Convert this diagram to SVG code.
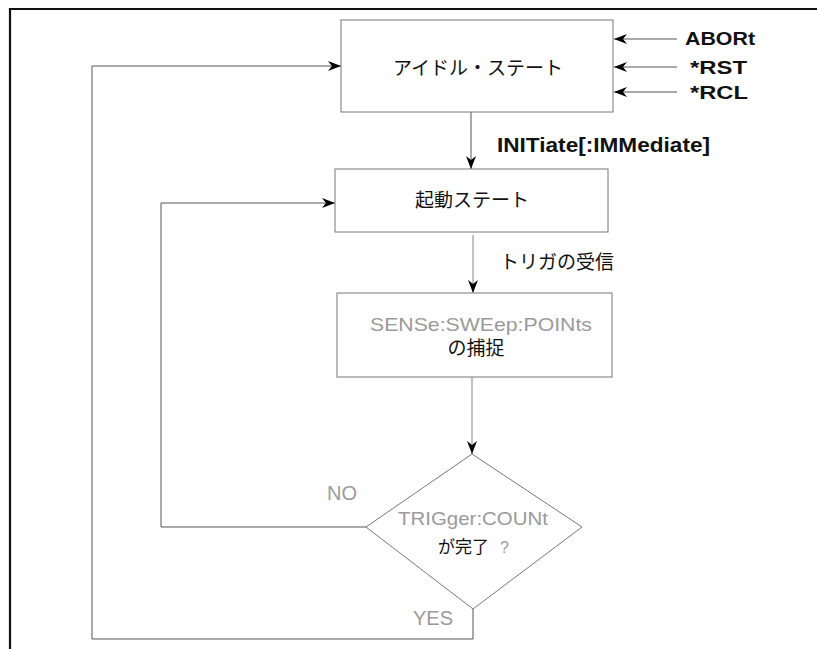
<svg xmlns="http://www.w3.org/2000/svg" width="817" height="649" viewBox="0 0 817 649">
<style>
.box{fill:#fff;stroke:#777;stroke-width:1}
.ln{fill:none;stroke:#555;stroke-width:1}
.lg{fill:none;stroke:#999;stroke-width:1.2}
.jp{font-family:"Noto Sans CJK JP","Noto Sans CJK SC",sans-serif;font-size:19px;fill:#111}
.bd{font-family:"Liberation Sans","DejaVu Sans",sans-serif;font-size:18px;font-weight:bold;fill:#111}
.gr{font-family:"Liberation Sans","DejaVu Sans",sans-serif;font-size:19px;fill:#9a9a9a}
</style>
<defs>
<marker id="ah" markerWidth="14" markerHeight="10" refX="13" refY="5" orient="auto" markerUnits="userSpaceOnUse">
<path d="M0,0 L13,5 L0,10 L4,5 Z" fill="#000"/>
</marker>
</defs>
<rect width="817" height="649" fill="#fff"/>
<g id="frame">
<path d="M10,649 V9 H817" fill="none" stroke="#111" stroke-width="2.2"/>
</g>
<g id="connectors">
<line class="ln" x1="677" y1="39" x2="614" y2="39" marker-end="url(#ah)"/>
<line class="ln" x1="677" y1="67" x2="614" y2="67" marker-end="url(#ah)"/>
<line class="ln" x1="677" y1="92" x2="614" y2="92" marker-end="url(#ah)"/>
<line class="ln" x1="471" y1="112" x2="471" y2="169" marker-end="url(#ah)"/>
<line class="lg" x1="473" y1="235" x2="473" y2="293" marker-end="url(#ah)"/>
<line class="lg" x1="472" y1="377" x2="472" y2="454" marker-end="url(#ah)"/>
<polyline class="ln" points="366,527 161,527 161,203 335,203" marker-end="url(#ah)"/>
<polyline class="ln" points="473,609 473,639 92,639 92,66 341,66" marker-end="url(#ah)"/>
</g>
<g id="idle">
<rect class="box" x="341" y="20" width="272" height="92"/>
<text class="jp" x="478" y="75" text-anchor="middle">アイドル・ステート</text>
</g>
<g id="labels-right">
<text class="bd" x="685" y="45" textLength="70" lengthAdjust="spacingAndGlyphs">ABORt</text>
<text class="bd" x="690" y="74" textLength="57" lengthAdjust="spacingAndGlyphs">*RST</text>
<text class="bd" x="690" y="99" textLength="58" lengthAdjust="spacingAndGlyphs">*RCL</text>
<text class="bd" x="497" y="152" style="font-size:21px" textLength="213" lengthAdjust="spacingAndGlyphs">INITiate[:IMMediate]</text>
</g>
<g id="start">
<rect class="box" x="335" y="169" width="273" height="63"/>
<text class="jp" x="472" y="207" text-anchor="middle">起動ステート</text>
</g>
<g id="trigger-label">
<text class="jp" x="500" y="269">トリガの受信</text>
</g>
<g id="sense">
<rect class="box" x="337" y="293" width="275" height="84"/>
<text class="gr" x="370" y="331" textLength="222" lengthAdjust="spacingAndGlyphs">SENSe:SWEep:POINts</text>
<text class="jp" x="476" y="355" text-anchor="middle">の捕捉</text>
</g>
<g id="decision">
<polygon class="box" points="472,454 582,527 473,609 366,527"/>
<text class="gr" x="398" y="525" textLength="150" lengthAdjust="spacingAndGlyphs">TRIGger:COUNt</text>
<text class="jp" x="438" y="553" style="font-size:17px">が完了</text>
<text class="gr" x="500" y="553" style="font-size:16px">?</text>
</g>
<g id="branch-labels">
<text class="gr" x="327" y="500" style="font-size:20px" textLength="30" lengthAdjust="spacingAndGlyphs">NO</text>
<text class="gr" x="413" y="625" style="font-size:20px" textLength="40" lengthAdjust="spacingAndGlyphs">YES</text>
</g>
</svg>
